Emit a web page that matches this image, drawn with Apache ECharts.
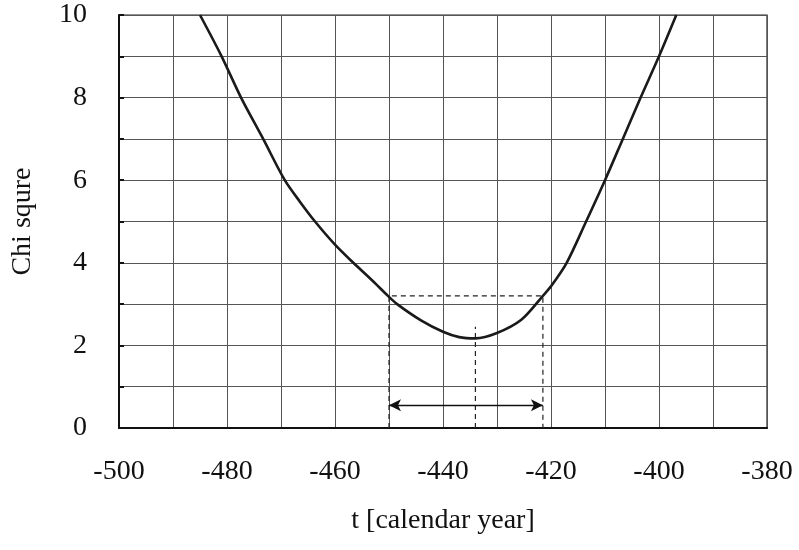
<!DOCTYPE html>
<html>
<head>
<meta charset="utf-8">
<script src="https://cdn.jsdelivr.net/npm/echarts@6/dist/echarts.min.js"></script>
<style>html,body{margin:0;padding:0;background:#fff;}#chart{width:799px;height:550px;}</style>
</head>
<body>
<div id="chart"></div>
<script>
// Curve (t in calendar years, chi-square)
const tValues   = [-485, -481, -477.4, -473.3, -469.3, -466.5, -463.7, -460, -456.6, -453, -450.2, -448.5, -444, -440, -437, -434, -430, -425.5, -421.5, -420, -417.1, -413.5, -410, -406.7, -403.4, -400, -396.8];
const chiValues = [10,   9,    8,      7,      6,      5.48,   5.0,    4.44, 4.0,    3.56, 3.2,    3.0,    2.6,  2.33, 2.2,  2.17, 2.3,  2.62,   3.2,    3.43, 4.0,    5.0,    6.0,  7.0,    8.0,    9.0,  10];
// Confidence interval annotation
const intervalStart = -450;
const intervalEnd = -421.5;
const bestT = -434;
const chiLevel = 3.2;
const bestMarkTop = 2.45;
const arrowLevel = 0.55;
// Axes
const xMin = -500, xMax = -380, xStep = 10;
const yMin = 0, yMax = 10, yStep = 1;
const xTitle = 't [calendar year]';
const yTitle = 'Chi squre';

const curve = tValues.map((t, i) => [t, chiValues[i]]);
const bracket = [[intervalStart, 0], [intervalStart, chiLevel], [intervalEnd, chiLevel], [intervalEnd, 0]];
const center = [[bestT, 0], [bestT, bestMarkTop]];

const font = 'Liberation Serif';
const chart = echarts.init(document.getElementById('chart'));
chart.setOption({
  animation: false,
  backgroundColor: '#fff',
  grid: { left: 119, right: 32, top: 15, bottom: 122, show: true, borderColor: '#222', borderWidth: 1.2 },
  xAxis: {
    type: 'value', min: xMin, max: xMax, interval: xStep,
    name: xTitle, nameLocation: 'middle', nameGap: 79,
    nameTextStyle: { fontFamily: font, fontSize: 28, color: '#111' },
    axisLine: { show: true, lineStyle: { color: '#111', width: 2 } },
    axisTick: { show: false },
    axisLabel: { fontFamily: font, fontSize: 28, color: '#111', margin: 30,
      formatter: v => (Math.round(v) % 20 === 0 ? String(v) : '') },
    splitLine: { show: true, lineStyle: { color: '#555', width: 1 } }
  },
  yAxis: {
    type: 'value', min: yMin, max: yMax, interval: yStep,
    name: yTitle, nameLocation: 'middle', nameGap: 82,
    nameTextStyle: { fontFamily: font, fontSize: 28, color: '#111' },
    axisLine: { show: true, lineStyle: { color: '#111', width: 2 } },
    axisTick: { show: true, inside: true, length: 5, lineStyle: { color: '#111', width: 2 } },
    axisLabel: { fontFamily: font, fontSize: 28, color: '#111', margin: 32,
      formatter: v => (Math.round(v) % 2 === 0 ? String(v) : '') },
    splitLine: { show: true, lineStyle: { color: '#555', width: 1 } }
  },
  series: [
    { type: 'line', data: curve, smooth: 0.3, symbol: 'none', z: 5,
      lineStyle: { color: '#1a1a1a', width: 2.6 } },
    { type: 'line', data: bracket, symbol: 'none', z: 4,
      lineStyle: { color: '#222', width: 1.2, type: [5, 4] } },
    { type: 'line', data: center, symbol: 'none', z: 4,
      lineStyle: { color: '#222', width: 1.2, type: [5, 4] },
      markLine: {
        silent: true, symbol: ['arrow', 'arrow'], symbolSize: [9, 12],
        label: { show: false },
        lineStyle: { color: '#111', width: 1.3, type: 'solid' },
        data: [[{ coord: [intervalStart, arrowLevel] }, { coord: [intervalEnd, arrowLevel] }]]
      } }
  ]
});
</script>
</body>
</html>
